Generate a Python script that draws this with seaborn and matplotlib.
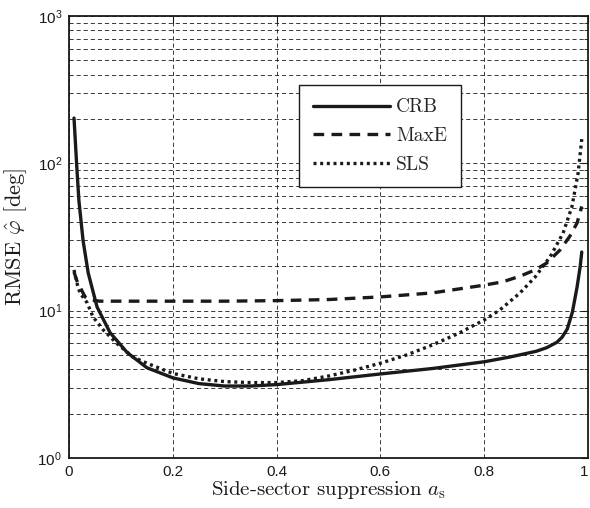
import matplotlib
matplotlib.use("Agg")
import matplotlib.pyplot as plt
import matplotlib.ticker as mticker
import seaborn as sns
import pandas as pd

# values (x = side-sector suppression, y = RMSE in deg)
a_crb = [0.0096, 0.015, 0.019, 0.027, 0.037, 0.054, 0.079, 0.112, 0.15, 0.2, 0.25, 0.3,
         0.35, 0.4, 0.5, 0.6, 0.7, 0.8, 0.85, 0.9, 0.92, 0.94, 0.95, 0.96, 0.97, 0.979,
         0.985, 0.988]
rmse_crb = [203, 94, 56, 30, 18, 10.6, 7.1, 5.2, 4.1, 3.5, 3.2, 3.08,
            3.08, 3.15, 3.4, 3.72, 4.05, 4.5, 4.85, 5.3, 5.6, 6.1, 6.6, 7.5, 9.8, 14.5,
            20, 25]

a_maxe = [0.0096, 0.015, 0.021, 0.031, 0.04, 0.06, 0.1, 0.2, 0.3, 0.4, 0.5, 0.6, 0.7,
          0.8, 0.836, 0.87, 0.898, 0.92, 0.946, 0.965, 0.979, 0.988]
rmse_maxe = [18.3, 16, 14.5, 12.4, 11.8, 11.6, 11.6, 11.6, 11.6, 11.7, 11.9, 12.4, 13.2,
             14.9, 15.7, 17.2, 18.9, 21, 25.8, 32, 39.4, 51]

a_sls = [0.0096, 0.015, 0.021, 0.035, 0.046, 0.066, 0.092, 0.123, 0.15, 0.2, 0.25, 0.3,
         0.35, 0.4, 0.45, 0.5, 0.55, 0.6, 0.65, 0.7, 0.75, 0.8, 0.83, 0.869, 0.898, 0.927,
         0.952, 0.969, 0.981, 0.988]
rmse_sls = [18.9, 15.5, 13.2, 11.3, 9.1, 7.4, 6.0, 4.85, 4.4, 3.75, 3.45, 3.3,
            3.25, 3.25, 3.35, 3.6, 3.95, 4.4, 5.0, 5.85, 7.0, 8.65, 10.1, 13.2, 16.9, 23.2,
            33.6, 50.7, 86, 146]

methods = ["CRB", "MaxE", "SLS"]
x_ticks = [0, 0.2, 0.4, 0.6, 0.8, 1]
x_ticklabels = ["0", "0.2", "0.4", "0.6", "0.8", "1"]

df = pd.concat([
    pd.DataFrame({"a": a_crb, "rmse": rmse_crb, "method": "CRB"}),
    pd.DataFrame({"a": a_maxe, "rmse": rmse_maxe, "method": "MaxE"}),
    pd.DataFrame({"a": a_sls, "rmse": rmse_sls, "method": "SLS"}),
], ignore_index=True)

sns.set_theme(style="white")
plt.rcParams["font.family"] = ["Liberation Sans", "DejaVu Sans"]
plt.rcParams["mathtext.fontset"] = "custom"
plt.rcParams["mathtext.rm"] = "Liberation Sans"
plt.rcParams["mathtext.it"] = "Liberation Sans:italic"

fig = plt.figure(figsize=(5.9, 5.08), dpi=100)
ax = fig.add_axes([0.117, 0.0984, 0.8796, 0.8701])

sns.lineplot(data=df, x="a", y="rmse", hue="method", style="method",
             hue_order=methods, style_order=methods,
             palette={"CRB": "k", "MaxE": "k", "SLS": "k"},
             dashes={"CRB": "", "MaxE": (3.2, 2.2), "SLS": (0.9, 1.1)},
             linewidth=2.4, estimator=None, sort=False, legend=False, ax=ax)

ax.set_yscale("log")
ax.set_xlim(0, 1)
ax.set_ylim(1, 1000)
ax.set_xticks(x_ticks)
ax.set_xticklabels(x_ticklabels)
ax.get_xticklabels()[-1].set_horizontalalignment("right")  # keep "1" inside the figure
ax.yaxis.set_major_locator(mticker.LogLocator(base=10, numticks=10))
ax.yaxis.set_minor_locator(mticker.LogLocator(base=10, subs=range(2, 10), numticks=20))
ax.yaxis.set_minor_formatter(mticker.NullFormatter())

# matlab-like dashed grid, majors and minors on y
grid_kw = dict(color="k", linewidth=0.6, linestyle=(0, (5, 3.5)))
ax.xaxis.grid(True, which="major", **grid_kw)
ax.yaxis.grid(True, which="both", **grid_kw)
ax.set_axisbelow(True)

ax.tick_params(which="both", direction="in", top=True, right=True, colors="k",
               labelsize=11, pad=5)
ax.tick_params(which="major", length=5, width=0.8)
ax.tick_params(which="minor", length=3, width=0.6)
for s in ax.spines.values():
    s.set_color("k")
    s.set_linewidth(1.3)

ax.set_xlabel(r"Side-sector suppression $a_\mathrm{s}$", fontfamily="cmr10",
              math_fontfamily="cm", fontsize=15, labelpad=0, color="k")
ax.set_ylabel(r"RMSE $\hat{\varphi}$ [deg]", fontfamily="cmr10",
              math_fontfamily="cm", fontsize=16, labelpad=6, color="k")

leg = ax.legend(ax.lines[:3], methods, loc="upper left", bbox_to_anchor=(0.443, 0.844),
                borderaxespad=0, frameon=True, fancybox=False, edgecolor="k", framealpha=1,
                handlelength=4.0, handletextpad=0.3, labelspacing=0.55,
                borderpad=0.7, prop={"family": "cmr10", "size": 14})
leg.get_frame().set_linewidth(1.0)

fig.savefig("out.png", dpi=100)
